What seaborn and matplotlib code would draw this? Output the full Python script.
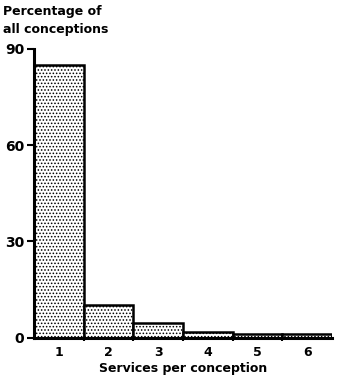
import matplotlib
matplotlib.use("Agg")
import matplotlib.pyplot as plt
import seaborn as sns
import pandas as pd

services = ["1", "2", "3", "4", "5", "6"]
percentages = [85.0, 10.1, 4.5, 1.8, 1.1, 1.1]
y_ticks = [0, 30, 60, 90]

sns.set_style("ticks")
plt.rcParams['font.family'] = ['DejaVu Sans']
plt.rcParams['hatch.linewidth'] = 0.7
plt.rcParams['text.color'] = 'black'
plt.rcParams['xtick.color'] = 'black'
plt.rcParams['ytick.color'] = 'black'
plt.rcParams['axes.labelcolor'] = 'black'
plt.rcParams['axes.edgecolor'] = 'black'

df = pd.DataFrame({"services": services, "pct": percentages})

fig = plt.figure(figsize=(3.41, 3.80), dpi=100)
ax = fig.add_axes([34/341, (380-337.5)/380, (332-34)/341, (337.5-49)/380])

sns.barplot(data=df, x="services", y="pct", ax=ax, width=1.0,
            color="white", edgecolor="black", linewidth=1.8, hatch=".....",
            saturation=1)

ax.set_xlim(-0.5, 5.5)
ax.set_ylim(0, 90)
ax.set_yticks(y_ticks)
ax.set_yticklabels([str(v) for v in y_ticks], fontsize=10, fontweight="bold")
ax.set_xticks(range(6))
ax.set_xticklabels(services, fontsize=9, fontweight="bold")
ax.tick_params(axis="x", which="major", length=0, pad=6)
ax.set_xticks([i + 0.5 for i in range(5)], minor=True)
ax.tick_params(axis="x", which="minor", length=5, width=1.5, direction="inout")
ax.tick_params(axis="y", length=5, width=1.5, direction="out", pad=2)

for s in ["top", "right"]:
    ax.spines[s].set_visible(False)
ax.spines["left"].set_linewidth(2.2)
ax.spines["bottom"].set_linewidth(2.2)

ax.set_xlabel("Services per conception", fontsize=9, fontweight="bold", labelpad=2)
ax.set_ylabel("")
fig.text(3/341, 1 - 11/380, "Percentage of", fontsize=9, fontweight="bold",
         va="center", ha="left")
fig.text(3/341, 1 - 30/380, "all conceptions", fontsize=9, fontweight="bold",
         va="center", ha="left")

fig.savefig("out.png", dpi=100, facecolor="white")
